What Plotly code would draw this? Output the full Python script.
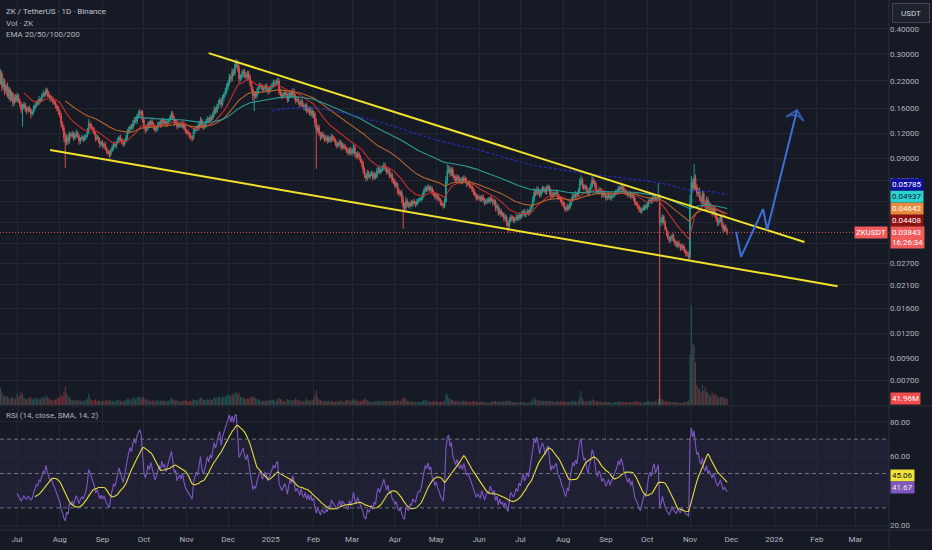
import numpy as np
import pandas as pd
import plotly.graph_objects as go

# ---------------------------------------------------------------- data ----
START_DATE = "2024-06-17"
FIRST_OPEN = 2900          # USDT x 1e-4
PRICE_UNIT = 1e-4

# daily closes (USDT x 1e-4)
CLOSE_2024_06 = [2450, 2200, 2400, 2050, 2200, 1950, 2080, 1850, 2000, 1780,
                 1900, 1700, 1820, 1750]
CLOSE_2024_07 = [1860, 1760, 1680, 1580, 1620, 1680, 1590, 1560, 1610, 1580,
                 1500, 1530, 1600, 1650, 1720, 1700, 1780, 1760, 1850, 1900,
                 1880, 1980, 1900, 1850, 1780, 1800, 1730, 1700, 1650, 1600,
                 1550]
CLOSE_2024_08 = [1480, 1350, 1280, 1150, 1080, 1150, 1100, 1190, 1170, 1200,
                 1140, 1180, 1210, 1160, 1100, 1130, 1150, 1120, 1150, 1170,
                 1230, 1340, 1310, 1280, 1250, 1200, 1130, 1150, 1110, 1060,
                 1080]
CLOSE_2024_09 = [1040, 1060, 1010, 980, 960, 940, 990, 1020, 1060, 1040,
                 1080, 1110, 1150, 1120, 1090, 1060, 1100, 1150, 1220, 1260,
                 1300, 1280, 1350, 1400, 1380, 1460, 1500, 1540, 1520, 1400]
CLOSE_2024_10 = [1300, 1250, 1280, 1350, 1320, 1380, 1340, 1290, 1250, 1270,
                 1330, 1360, 1320, 1400, 1360, 1380, 1330, 1370, 1400, 1450,
                 1500, 1440, 1360, 1380, 1300, 1320, 1340, 1310, 1350, 1290,
                 1240]
CLOSE_2024_11 = [1220, 1200, 1170, 1150, 1140, 1230, 1260, 1290, 1270, 1340,
                 1400, 1330, 1290, 1320, 1380, 1420, 1390, 1450, 1430, 1500,
                 1580, 1550, 1640, 1700, 1760, 1680, 1800, 1870, 1950, 2050]
CLOSE_2024_12 = [2150, 2300, 2250, 2450, 2400, 2650, 2700, 2550, 2250, 2300,
                 2380, 2450, 2350, 2300, 2400, 2300, 2150, 2000, 1850, 1900,
                 1850, 1950, 2050, 2100, 2050, 1980, 2030, 2080, 2020, 1960,
                 2000]
CLOSE_2025_01 = [2050, 2100, 2150, 2120, 2180, 2200, 1950, 1900, 1850, 1880,
                 1920, 1870, 1780, 1850, 1920, 1870, 1950, 1850, 1750, 1780,
                 1720, 1680, 1740, 1650, 1620, 1660, 1560, 1600, 1520, 1560,
                 1480]
CLOSE_2025_02 = [1500, 1360, 1250, 1290, 1200, 1150, 1190, 1160, 1120, 1150,
                 1100, 1140, 1110, 1160, 1130, 1110, 1070, 1040, 1070, 1090,
                 1020, 1050, 1030, 1010, 990, 960, 1000, 960]
CLOSE_2025_03 = [980, 1020, 950, 920, 950, 910, 880, 850, 790, 740,
                 720, 760, 730, 750, 760, 720, 750, 730, 780, 800,
                 770, 790, 810, 830, 800, 770, 790, 740, 750, 700,
                 690]
CLOSE_2025_04 = [660, 670, 620, 600, 610, 560, 520, 510, 550, 530,
                 520, 540, 530, 550, 540, 530, 550, 560, 560, 570,
                 590, 620, 640, 630, 650, 630, 640, 610, 600, 580]
CLOSE_2025_05 = [590, 570, 560, 540, 530, 520, 550, 700, 780, 800,
                 760, 790, 740, 720, 700, 730, 710, 690, 710, 690,
                 720, 700, 670, 680, 660, 650, 630, 610, 590, 570,
                 580]
CLOSE_2025_06 = [570, 560, 580, 560, 540, 550, 560, 550, 570, 560,
                 540, 550, 510, 520, 480, 495, 470, 475, 450, 460,
                 430, 415, 440, 460, 450, 440, 450, 460, 450, 470]
CLOSE_2025_07 = [460, 480, 490, 470, 480, 490, 480, 500, 520, 560,
                 610, 600, 630, 610, 590, 620, 640, 630, 610, 640,
                 650, 620, 580, 600, 590, 600, 610, 580, 570, 560,
                 540]
CLOSE_2025_08 = [530, 510, 500, 520, 510, 540, 560, 590, 580, 600,
                 590, 620, 680, 700, 660, 640, 650, 620, 600, 630,
                 650, 700, 690, 660, 620, 610, 630, 620, 590, 600,
                 590]
CLOSE_2025_09 = [570, 580, 590, 570, 580, 590, 600, 610, 620, 640,
                 630, 650, 640, 620, 610, 600, 590, 600, 580, 590,
                 570, 540, 530, 520, 500, 490, 500, 510, 520, 510]
CLOSE_2025_10 = [530, 550, 560, 550, 570, 580, 560, 570, 580, 430,
                 440, 460, 430, 400, 380, 360, 350, 360, 370, 350,
                 340, 330, 340, 330, 320, 330, 320, 310, 300, 300,
                 290]
CLOSE_2025_11 = [540, 680, 640, 720, 650, 600, 620, 570, 550, 600,
                 540, 520, 560, 510, 530, 500, 480, 510, 470, 450,
                 430, 440, 460, 420, 400, 410, 395, 384.3]

# upper / lower wick beyond the body, percent
UPPER_WICK_2024_06 = [12, 4, 5, 3, 4, 3, 2, 4, 3, 2, 3, 2, 3, 4]
UPPER_WICK_2024_07 = [3, 2, 2, 3, 4, 3, 2, 3, 2, 3, 2, 3, 4, 3, 2, 3, 4, 2, 3, 4,
                      2, 3, 2, 3, 2, 3, 2, 2, 3, 2, 3]
UPPER_WICK_2024_08 = [2, 3, 2, 3, 6, 3, 4, 3, 2, 3, 2, 3, 4, 2, 3, 2, 3, 2, 3, 2,
                      4, 6, 3, 3, 2, 3, 2, 3, 2, 3, 2]
UPPER_WICK_2024_09 = [3, 2, 3, 2, 2, 3, 2, 3, 2, 3, 2, 3, 2, 3, 2, 3, 2, 3, 4, 3,
                      2, 3, 4, 3, 2, 3, 4, 3, 2, 3]
UPPER_WICK_2024_10 = [3, 2, 3, 2, 3, 2, 3, 2, 3, 2, 3, 2, 3, 3, 2, 3, 2, 3, 2, 3,
                      4, 3, 2, 3, 2, 3, 2, 3, 2, 3, 2]
UPPER_WICK_2024_11 = [2, 3, 2, 3, 2, 4, 3, 2, 3, 3, 4, 2, 3, 2, 3, 3, 2, 3, 2, 3,
                      4, 3, 3, 4, 3, 3, 4, 3, 4, 4]
UPPER_WICK_2024_12 = [3, 4, 3, 4, 3, 4, 5, 3, 4, 3, 4, 3, 3, 4, 3, 3, 3, 2, 3, 3,
                      3, 4, 3, 3, 2, 3, 3, 2, 3, 2, 3]
UPPER_WICK_2025_01 = [3, 3, 4, 3, 3, 4, 3, 3, 2, 3, 3, 2, 3, 4, 3, 3, 4, 3, 2, 3,
                      3, 2, 3, 2, 3, 2, 3, 3, 2, 5, 3]
UPPER_WICK_2025_02 = [4, 3, 5, 3, 3, 2, 3, 3, 2, 3, 2, 3, 2, 3, 2, 3, 2, 3, 2, 3,
                      2, 3, 2, 3, 2, 3, 2, 3]
UPPER_WICK_2025_03 = [3, 4, 3, 2, 3, 2, 3, 2, 3, 3, 3, 4, 3, 3, 3, 2, 3, 2, 4, 3,
                      2, 3, 3, 4, 3, 2, 3, 2, 3, 2, 3]
UPPER_WICK_2025_04 = [3, 3, 2, 3, 2, 3, 5, 4, 5, 3, 3, 2, 3, 2, 3, 2, 3, 2, 3, 2,
                      3, 3, 3, 2, 3, 2, 3, 2, 3, 2]
UPPER_WICK_2025_05 = [3, 2, 3, 2, 3, 2, 3, 5, 8, 4, 3, 3, 3, 2, 3, 3, 2, 3, 2, 3,
                      3, 2, 3, 2, 3, 2, 3, 2, 3, 2, 3]
UPPER_WICK_2025_06 = [2, 3, 2, 3, 2, 3, 2, 3, 2, 3, 2, 3, 2, 3, 2, 3, 2, 3, 2, 3,
                      2, 3, 4, 3, 2, 3, 2, 3, 2, 3]
UPPER_WICK_2025_07 = [2, 3, 2, 3, 2, 3, 2, 3, 3, 4, 5, 3, 4, 3, 2, 3, 3, 2, 3, 3,
                      3, 2, 3, 2, 3, 2, 3, 2, 3, 2, 3]
UPPER_WICK_2025_08 = [2, 3, 2, 3, 2, 3, 3, 3, 2, 3, 2, 3, 5, 6, 3, 2, 3, 2, 3, 3,
                      4, 5, 3, 2, 3, 2, 3, 2, 3, 2, 3]
UPPER_WICK_2025_09 = [2, 3, 2, 3, 2, 3, 2, 3, 2, 3, 2, 3, 2, 3, 2, 3, 2, 3, 2, 3,
                      2, 3, 2, 3, 2, 3, 2, 3, 2, 3]
UPPER_WICK_2025_10 = [3, 2, 3, 2, 3, 2, 3, 2, 17, 3, 4, 3, 2, 3, 2, 3, 2, 3, 2, 3,
                      2, 3, 2, 3, 2, 3, 2, 3, 2, 3, 3]
UPPER_WICK_2025_11 = [10, 8, 4, 17, 4, 3, 3, 4, 3, 4, 3, 3, 4, 3, 3, 2, 3, 3, 2, 3,
                      2, 3, 3, 2, 3, 2, 3, 2]

LOWER_WICK_2024_06 = [5, 6, 4, 5, 3, 4, 3, 2, 4, 3, 2, 4, 3, 2]
LOWER_WICK_2024_07 = [2, 3, 3, 4, 18, 2, 3, 4, 2, 3, 5, 2, 2, 3, 2, 3, 2, 3, 2, 2,
                      3, 2, 4, 2, 3, 2, 3, 2, 3, 3, 4]
LOWER_WICK_2024_08 = [3, 4, 3, 5, 25, 3, 4, 3, 3, 2, 3, 2, 3, 2, 4, 3, 2, 3, 2, 3,
                      2, 3, 3, 2, 3, 2, 3, 2, 3, 4, 2]
LOWER_WICK_2024_09 = [2, 3, 2, 3, 3, 4, 2, 2, 3, 2, 3, 2, 3, 2, 3, 3, 2, 2, 3, 2,
                      3, 2, 2, 3, 2, 3, 2, 3, 4, 3]
LOWER_WICK_2024_10 = [3, 4, 2, 3, 2, 3, 2, 3, 3, 2, 3, 2, 3, 2, 3, 2, 3, 2, 3, 2,
                      2, 3, 4, 2, 3, 2, 3, 2, 3, 3, 3]
LOWER_WICK_2024_11 = [3, 2, 3, 3, 4, 2, 3, 2, 3, 2, 3, 4, 3, 2, 3, 2, 3, 2, 3, 2,
                      3, 3, 2, 3, 2, 4, 2, 3, 2, 3]
LOWER_WICK_2024_12 = [3, 3, 4, 3, 3, 3, 4, 4, 5, 3, 3, 4, 3, 3, 4, 3, 4, 3, 5, 16,
                      3, 3, 3, 2, 3, 3, 2, 3, 3, 4, 3]
LOWER_WICK_2025_01 = [3, 2, 3, 3, 2, 3, 4, 3, 4, 3, 2, 3, 4, 3, 2, 3, 3, 4, 3, 2,
                      3, 3, 3, 2, 3, 4, 3, 2, 3, 3, 3]
LOWER_WICK_2025_02 = [3, 5, 36, 3, 3, 4, 2, 3, 3, 2, 3, 2, 3, 2, 3, 2, 3, 3, 2, 3,
                      3, 2, 3, 2, 3, 3, 2, 3]
LOWER_WICK_2025_03 = [3, 3, 4, 3, 2, 3, 3, 4, 4, 3, 4, 3, 2, 3, 2, 3, 2, 3, 2, 3,
                      3, 2, 2, 3, 3, 3, 2, 3, 3, 3, 3]
LOWER_WICK_2025_04 = [3, 3, 4, 3, 3, 4, 23, 5, 3, 3, 2, 3, 2, 3, 2, 3, 2, 3, 2, 3,
                      2, 3, 2, 3, 2, 3, 2, 3, 3, 3]
LOWER_WICK_2025_05 = [3, 3, 2, 3, 2, 3, 2, 2, 4, 3, 4, 3, 3, 3, 2, 3, 3, 2, 3, 3,
                      2, 3, 3, 2, 3, 2, 3, 3, 2, 3, 2]
LOWER_WICK_2025_06 = [3, 2, 3, 2, 3, 2, 3, 2, 3, 2, 3, 3, 4, 3, 3, 2, 3, 2, 3, 3,
                      4, 8, 3, 2, 3, 2, 3, 2, 3, 2]
LOWER_WICK_2025_07 = [3, 2, 3, 2, 3, 2, 3, 2, 2, 3, 3, 3, 2, 3, 3, 2, 3, 3, 2, 3,
                      3, 4, 3, 2, 3, 2, 3, 3, 2, 3, 3]
LOWER_WICK_2025_08 = [3, 3, 3, 2, 3, 2, 3, 2, 3, 2, 3, 2, 3, 3, 4, 3, 2, 3, 3, 2,
                      3, 2, 3, 3, 3, 2, 3, 2, 3, 3, 2]
LOWER_WICK_2025_09 = [3, 2, 3, 2, 3, 2, 3, 2, 3, 2, 3, 2, 3, 2, 3, 2, 3, 2, 3, 2,
                      3, 3, 2, 3, 3, 2, 3, 2, 3, 2]
LOWER_WICK_2025_10 = [2, 3, 2, 3, 2, 3, 2, 3, 3, 91, 4, 3, 3, 2, 3, 2, 3, 2, 3, 2,
                      3, 2, 3, 2, 3, 2, 3, 2, 3, 3, 4]
LOWER_WICK_2025_11 = [3, 4, 5, 3, 4, 3, 4, 3, 3, 4, 3, 3, 3, 4, 3, 3, 4, 2, 3, 3,
                      4, 3, 2, 3, 4, 3, 2, 3]

# daily volume, millions of ZK
VOLUME_2024_06 = [220, 150, 120, 90, 70, 60, 55, 60, 50, 45, 50, 55, 40, 45]
VOLUME_2024_07 = [80, 60, 70, 90, 75, 50, 45, 40, 45, 50, 60, 45, 40, 45, 55, 40,
                  45, 40, 55, 60, 45, 70, 55, 45, 40, 35, 30, 35, 40, 45, 50]
VOLUME_2024_08 = [55, 70, 60, 90, 130, 80, 60, 55, 40, 35, 30, 40, 35, 30, 35, 30,
                  25, 25, 30, 35, 45, 80, 50, 35, 30, 35, 40, 30, 30, 35, 25]
VOLUME_2024_09 = [25, 30, 30, 35, 30, 35, 30, 25, 30, 25, 30, 35, 40, 30, 25, 25,
                  30, 35, 45, 40, 45, 30, 50, 55, 40, 50, 55, 60, 40, 55]
VOLUME_2024_10 = [50, 40, 35, 40, 30, 30, 35, 30, 30, 25, 35, 30, 25, 40, 30, 30,
                  25, 30, 30, 40, 50, 40, 35, 30, 40, 25, 25, 30, 30, 30, 35]
VOLUME_2024_11 = [30, 25, 25, 30, 30, 40, 35, 35, 30, 45, 55, 45, 40, 35, 40, 40,
                  35, 45, 35, 40, 55, 45, 55, 50, 60, 45, 60, 55, 60, 70]
VOLUME_2024_12 = [70, 75, 60, 80, 70, 85, 90, 75, 85, 60, 55, 50, 45, 40, 45, 45,
                  50, 55, 60, 55, 45, 40, 40, 35, 30, 30, 30, 30, 30, 35, 30]
VOLUME_2025_01 = [35, 35, 40, 30, 30, 45, 50, 40, 40, 30, 25, 25, 40, 35, 35, 30,
                  35, 35, 45, 40, 35, 30, 30, 25, 25, 30, 45, 35, 30, 30, 35]
VOLUME_2025_02 = [40, 70, 100, 55, 40, 35, 30, 30, 25, 30, 25, 30, 25, 30, 25, 20,
                  25, 30, 25, 30, 35, 25, 20, 30, 35, 35, 30, 30]
VOLUME_2025_03 = [30, 40, 40, 30, 30, 25, 25, 30, 35, 45, 40, 35, 25, 25, 20, 20,
                  25, 20, 30, 30, 25, 25, 25, 30, 25, 25, 25, 30, 25, 25, 30]
VOLUME_2025_04 = [30, 30, 35, 30, 25, 40, 60, 45, 45, 30, 25, 25, 20, 25, 20, 20,
                  20, 20, 20, 20, 25, 35, 40, 30, 30, 25, 20, 25, 25, 25]
VOLUME_2025_05 = [25, 25, 20, 25, 20, 25, 30, 80, 70, 50, 40, 40, 35, 30, 25, 30,
                  25, 20, 25, 25, 30, 25, 25, 20, 20, 20, 25, 25, 25, 25, 20]
VOLUME_2025_06 = [20, 20, 25, 20, 20, 20, 15, 15, 20, 20, 25, 25, 30, 25, 25, 20,
                  25, 25, 25, 25, 25, 30, 30, 25, 20, 20, 20, 20, 15, 20]
VOLUME_2025_07 = [20, 20, 20, 20, 15, 15, 15, 20, 25, 40, 55, 40, 35, 30, 30, 30,
                  30, 25, 25, 30, 30, 30, 30, 25, 20, 20, 25, 25, 20, 25, 25]
VOLUME_2025_08 = [25, 25, 20, 20, 20, 25, 25, 30, 25, 25, 25, 30, 60, 100, 45, 30,
                  25, 25, 25, 30, 30, 45, 35, 25, 30, 25, 25, 25, 20, 20, 20]
VOLUME_2025_09 = [20, 20, 20, 20, 15, 15, 20, 20, 20, 25, 20, 25, 20, 20, 20, 20,
                  20, 20, 20, 15, 20, 25, 25, 20, 25, 20, 15, 15, 20, 20]
VOLUME_2025_10 = [25, 25, 25, 20, 25, 25, 25, 25, 40, 70, 45, 40, 30, 30, 25, 25,
                  25, 20, 20, 20, 20, 20, 20, 15, 15, 15, 20, 20, 20, 25, 30]
VOLUME_2025_11 = [360, 700, 430, 420, 300, 140, 120, 110, 90, 140, 100, 130, 90, 85,
                  70, 60, 90, 70, 80, 75, 60, 50, 55, 60, 55, 50, 45, 41.96]

MONTHS = ["2024_06", "2024_07", "2024_08", "2024_09", "2024_10", "2024_11",
          "2024_12", "2025_01", "2025_02", "2025_03", "2025_04", "2025_05",
          "2025_06", "2025_07", "2025_08", "2025_09", "2025_10", "2025_11"]

# axis ticks and labels ("" = grid line whose label sits behind a value tag)
PRICE_TICKS = [0.4, 0.3, 0.22, 0.16, 0.12, 0.09, 0.07, 0.055, 0.043, 0.034,
               0.027, 0.021, 0.016, 0.012, 0.009, 0.007]
PRICE_TICK_TEXT = ["0.40000", "0.30000", "0.22000", "0.16000", "0.12000", "0.09000",
                   "0.07000", "", "", "", "0.02700", "0.02100", "0.01600", "0.01200",
                   "0.00900", "0.00700"]
RSI_TICKS = [20, 40, 60, 80]
RSI_TICK_TEXT = ["20.00", "", "60.00", "80.00"]
RSI_LEVELS = [70, 50, 30]

# value labels on the scale
LAST_PRICE = 0.03843
COUNTDOWN = "16:26:34"
LAST_VOLUME_LABEL = "41.96M"
EMA_LENGTHS = [20, 50, 100, 200]
EMA_LAST_TEXT = ["0.04408", "0.04642", "0.04937", "0.05785"]
RSI_LAST = 41.67
RSI_MA_LAST = 45.06

# drawings
UPPER_LINE_DATES = ["2024-11-17", "2026-01-23"]
UPPER_LINE_PRICES = [0.303, 0.0344]
LOWER_LINE_DATES = ["2024-07-25", "2026-02-16"]
LOWER_LINE_PRICES = [0.0993, 0.0207]
PATH_DATES = ["2025-12-04 10:00", "2025-12-08", "2025-12-24", "2025-12-27", "2026-01-17 14:00"]
PATH_PRICES = [0.0387, 0.0290, 0.0503, 0.0396, 0.157]

# ---------------------------------------------------------------- build ---
g = globals()
close = np.concatenate([g["CLOSE_" + m] for m in MONTHS]).astype(float) * PRICE_UNIT
upw = np.concatenate([g["UPPER_WICK_" + m] for m in MONTHS]).astype(float)
dnw = np.concatenate([g["LOWER_WICK_" + m] for m in MONTHS]).astype(float)
vol = np.concatenate([g["VOLUME_" + m] for m in MONTHS]).astype(float)
n = len(close)
opn = np.r_[FIRST_OPEN * PRICE_UNIT, close[:-1]]
high = np.maximum(opn, close) * (1 + upw[:n] / 100)
low = np.minimum(opn, close) * (1 - dnw[:n] / 100)
dates = pd.date_range(START_DATE, periods=n, freq="D")


def ema(x, length):
    out = np.full(len(x), np.nan)
    a = 2.0 / (length + 1)
    out[length - 1] = x[:length].mean()
    for i in range(length, len(x)):
        out[i] = a * x[i] + (1 - a) * out[i - 1]
    return out


def rsi(x, length=14):
    d = np.diff(x)
    gain = np.clip(d, 0, None)
    loss = np.clip(-d, 0, None)
    out = np.full(len(x), np.nan)
    ag, al = gain[:length].mean(), loss[:length].mean()
    out[length] = 100 - 100 / (1 + ag / al)
    for i in range(length + 1, len(x)):
        ag = (ag * (length - 1) + gain[i - 1]) / length
        al = (al * (length - 1) + loss[i - 1]) / length
        out[i] = 100 - 100 / (1 + ag / al)
    return out


rsi_v = rsi(close, 14)
rsi_ma = pd.Series(rsi_v).rolling(14).mean().values

BG = "#161a25"
GRID = "#232733"
TXT = "#b2b5be"
UP = "#22a092"
DOWN = "#e04e4e"
FONT = "Roboto"
EMA_COLORS = ["#c62e2e", "#b8642c", "#2a9d98", "#2c2cc8"]
EMA_DASH = ["solid", "solid", "solid", "3px,2px"]
EMA_TAG_BG = ["#8e1212", "#eb8a3e", "#2bd3cf", "#0f0fa0"]
EMA_TAG_FG = ["#ffffff", "#ffffff", "#0b1530", "#ffffff"]

X_RANGE = ["2024-06-18 16:00", "2026-03-25 07:00"]
tick_months = pd.date_range("2024-07-01", "2026-03-01", freq="MS")
tick_text = [d.strftime("%Y") if d.month == 1 else d.strftime("%b") for d in tick_months]

up_day = close >= opn
vcol = np.where(up_day, "rgba(38,166,154,0.45)", "rgba(239,83,80,0.45)")

fig = go.Figure()

fig.add_trace(go.Bar(x=dates, y=vol, xaxis="x", yaxis="y3",
                     marker=dict(color=vcol.tolist(), line=dict(width=0)),
                     width=0.7 * 86400000, hoverinfo="skip"))

fig.add_trace(go.Candlestick(
    x=dates, open=opn, high=high, low=low, close=close, xaxis="x", yaxis="y",
    increasing=dict(line=dict(color=UP, width=1), fillcolor=UP),
    decreasing=dict(line=dict(color=DOWN, width=1), fillcolor=DOWN),
    whiskerwidth=0, hoverinfo="skip"))

for L, c, dsh in zip(EMA_LENGTHS, EMA_COLORS, EMA_DASH):
    fig.add_trace(go.Scatter(x=dates, y=ema(close, L), mode="lines", xaxis="x", yaxis="y",
                             line=dict(color=c, width=1.1, dash=dsh), hoverinfo="skip"))

# last price dotted line
fig.add_trace(go.Scatter(x=X_RANGE, y=[LAST_PRICE, LAST_PRICE], mode="lines",
                         xaxis="x", yaxis="y", line=dict(color="#e0555a", width=1, dash="1px,2px"),
                         hoverinfo="skip"))

# wedge trendlines
for dts, prs in ((UPPER_LINE_DATES, UPPER_LINE_PRICES), (LOWER_LINE_DATES, LOWER_LINE_PRICES)):
    fig.add_trace(go.Scatter(x=dts, y=prs, mode="lines", xaxis="x", yaxis="y",
                             line=dict(color="#f2e22c", width=2), hoverinfo="skip"))

# projected path with arrow head
BLUE = "#3d6fd9"
fig.add_trace(go.Scatter(x=PATH_DATES, y=PATH_PRICES, mode="lines+markers", xaxis="x", yaxis="y",
                         line=dict(color=BLUE, width=2),
                         marker=dict(symbol="arrow-wide-open", angleref="previous",
                                     size=[0] * (len(PATH_DATES) - 1) + [13], color=BLUE,
                                     line=dict(color=BLUE, width=2)),
                         hoverinfo="skip"))

# RSI pane
fig.add_trace(go.Scatter(x=dates, y=rsi_v, mode="lines", xaxis="x", yaxis="y2",
                         line=dict(color="#7e57c2", width=1.1), hoverinfo="skip"))
fig.add_trace(go.Scatter(x=dates, y=rsi_ma, mode="lines", xaxis="x", yaxis="y2",
                         line=dict(color="#e9dc3a", width=1.1), hoverinfo="skip"))

shapes = [
    dict(type="rect", xref="paper", yref="y2", x0=0, x1=1, y0=30, y1=70,
         fillcolor="rgba(126,87,194,0.10)", line=dict(width=0), layer="below"),
]
for lv in RSI_LEVELS:
    shapes.append(dict(type="line", xref="paper", yref="y2", x0=0, x1=1, y0=lv, y1=lv,
                       line=dict(color="#6f7280", width=1, dash="4px,3px")))
# pane separator, scale border, bottom border
shapes += [
    dict(type="line", xref="paper", yref="paper", x0=0, x1=1.05, y0=0.234, y1=0.234,
         line=dict(color="#2a2e39", width=1)),
    dict(type="line", xref="paper", yref="paper", x0=1, x1=1, y0=-0.04, y1=1,
         line=dict(color="#2a2e39", width=1)),
    dict(type="line", xref="paper", yref="paper", x0=0, x1=1.05, y0=0, y1=0,
         line=dict(color="#2a2e39", width=1)),
]

ann = []


def tag(text, y, yref, bg, fg, yshift=0, yanchor="middle", x=1, xanchor="left", xshift=1):
    ann.append(dict(text=text, x=x, xref="paper", xanchor=xanchor, xshift=xshift,
                    y=y, yref=yref, yanchor=yanchor, yshift=yshift, showarrow=False,
                    bgcolor=bg, borderpad=1, align="left",
                    font=dict(family=FONT, size=8, color=fg)))


ly = np.log10(LAST_PRICE)
for k in range(len(EMA_LENGTHS)):
    tag(EMA_LAST_TEXT[k], ly, "y", EMA_TAG_BG[k], EMA_TAG_FG[k], yshift=12 * (k + 1))
tag(f"{LAST_PRICE:.5f}<br>{COUNTDOWN}", ly, "y", "#f05a5a", "#ffffff", yshift=6, yanchor="top")
tag("ZKUSDT", ly, "y", "#f05a5a", "#ffffff", xanchor="right", xshift=-1)
tag(LAST_VOLUME_LABEL, vol[-1], "y3", "#f04c4c", "#ffffff")
tag(f"{RSI_MA_LAST:.2f}", RSI_MA_LAST, "y2", "#f2e23a", "#131722", yshift=6)
tag(f"{RSI_LAST:.2f}", RSI_LAST, "y2", "#7e57c2", "#f3ecc8")

ann.append(dict(text="USDT", x=1, xref="paper", xanchor="left", xshift=3, y=1, yref="paper",
                yanchor="top", yshift=-3, showarrow=False, width=34, height=16,
                bgcolor="#1e222d", bordercolor="#434651", borderwidth=1, borderpad=1,
                font=dict(family=FONT, size=8, color="#d1d4dc")))

legend_lines = [("ZK / TetherUS · 1D · Binance", 0.9774, "#c3c6ce"),
                ("Vol · ZK", 0.9557, TXT),
                ("EMA 20/50/100/200", 0.934, TXT),
                ("RSI (14, close, SMA, 14, 2)", 0.2151, TXT)]
for t, yy, col in legend_lines:
    ann.append(dict(text=t, x=0, xref="paper", xanchor="left", xshift=4, y=yy, yref="paper",
                    yanchor="middle", showarrow=False,
                    font=dict(family=FONT, size=8, color=col)))

fig.update_layout(
    width=932, height=550, margin=dict(l=0, r=43, t=0, b=20),
    paper_bgcolor=BG, plot_bgcolor=BG, showlegend=False, hovermode=False,
    font=dict(family=FONT, size=8, color=TXT),
    xaxis=dict(type="date", range=X_RANGE, anchor="y2", tickvals=tick_months, ticktext=tick_text,
               showgrid=True, gridcolor=GRID, gridwidth=1, zeroline=False, showline=False,
               ticks="", tickfont=dict(family=FONT, size=8, color=TXT), ticklabelstandoff=3,
               rangeslider=dict(visible=False), automargin=False, fixedrange=True),
    yaxis=dict(domain=[0.236, 1], type="log", range=[-2.278, -0.253], side="right", anchor="x",
               tickvals=PRICE_TICKS, ticktext=PRICE_TICK_TEXT,
               showgrid=True, gridcolor=GRID, zeroline=False, showline=False, ticks="",
               tickfont=dict(family=FONT, size=8, color=TXT), automargin=False, fixedrange=True),
    yaxis2=dict(domain=[0, 0.232], range=[17.1, 88.7], side="right", anchor="x",
                tickvals=RSI_TICKS, ticktext=RSI_TICK_TEXT,
                showgrid=True, gridcolor=GRID, zeroline=False, showline=False, ticks="",
                tickfont=dict(family=FONT, size=8, color=TXT), automargin=False, fixedrange=True),
    yaxis3=dict(overlaying="y", anchor="x", range=[0, 2850], visible=False, fixedrange=True),
    shapes=shapes, annotations=ann,
)

fig.write_html("out.html", config={"displayModeBar": False, "staticPlot": True},
               post_script="document.body.style.margin='0px';document.body.style.background='%s';" % BG)
